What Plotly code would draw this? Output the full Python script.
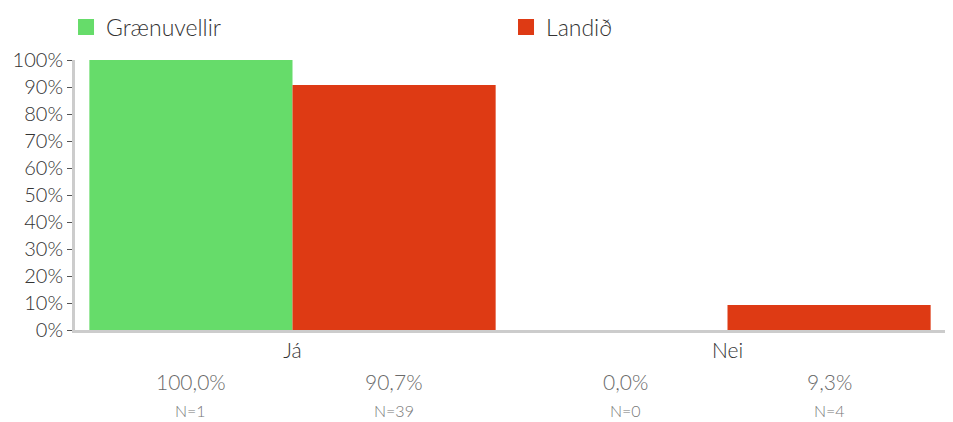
import plotly.graph_objects as go

categories = ["Já", "Nei"]
series_names = ["Grænuvellir", "Landið"]
gr_values = [100.0, 0.0]
land_values = [90.7, 9.3]
gr_counts = [1, 0]
land_counts = [39, 4]
colors = ["#66DC6A", "#DE3A14"]
ytick_vals = list(range(0, 101, 10))
ytick_text = [f"{v}%" for v in ytick_vals]

FONT = "Lato, Noto Sans, sans-serif"

# page body has an 8px margin, so the figure is sized 8px smaller each way
W, H = 945, 414

fig = go.Figure()
fig.add_trace(go.Bar(x=categories, y=gr_values, name=series_names[0], showlegend=False,
                     marker=dict(color=colors[0], line=dict(width=0))))
fig.add_trace(go.Bar(x=categories, y=land_values, name=series_names[1], showlegend=False,
                     marker=dict(color=colors[1], line=dict(width=0))))
# legend entries (one legend each, so they can sit apart) with big square swatches
for name, col, leg in zip(series_names, colors, ["legend", "legend2"]):
    fig.add_trace(go.Scatter(x=[None], y=[None], mode="markers", name=name, legend=leg,
                             marker=dict(symbol="square", size=16, color=col)))

bargap = 0.066
half = (1 - bargap) / 4  # offset of each bar centre from category centre

# percentages and N under each bar
annos = []
for i, cat in enumerate(categories):
    for off, vals, counts in [(-half, gr_values, gr_counts), (half, land_values, land_counts)]:
        pct = f"{vals[i]:.1f}%".replace(".", ",")
        annos.append(dict(x=i + off, y=-0.19, xref="x", yref="paper", text=pct,
                          yanchor="middle", showarrow=False,
                          font=dict(family=FONT, size=21, weight=300, color="#6a6a6a")))
        annos.append(dict(x=i + off, y=-0.299, xref="x", yref="paper", text=f"N={counts[i]}",
                          yanchor="middle", showarrow=False,
                          font=dict(family=FONT, size=16, weight=300, color="#777777")))

legend_common = dict(orientation="h", xanchor="left", yanchor="middle", xref="container",
                     yref="container", y=0.954, bgcolor="rgba(0,0,0,0)",
                     font=dict(family=FONT, size=23, weight=300, color="#333333"))

fig.update_layout(
    width=W, height=H,
    margin=dict(l=67, r=8, t=52, b=92, autoexpand=False),
    barmode="group", bargap=bargap, bargroupgap=0,
    plot_bgcolor="white", paper_bgcolor="white",
    font=dict(family=FONT, color="#333333"),
    showlegend=True,
    legend=dict(x=0.0614, **legend_common),
    legend2=dict(x=0.527, **legend_common),
    annotations=annos,
)
fig.update_xaxes(showline=True, linecolor="#CCCCCC", linewidth=3, layer="below traces",
                 tickfont=dict(family=FONT, size=21, weight=300, color="#333333"), ticks="",
                 range=[-0.5, 1.5])
fig.update_yaxes(range=[0, 100], tickmode="array", tickvals=ytick_vals,
                 ticktext=ytick_text, showgrid=False, showline=True,
                 linecolor="#CCCCCC", linewidth=3, ticks="outside",
                 ticklen=5, tickcolor="#555555", layer="below traces",
                 tickfont=dict(family=FONT, size=20, weight=300, color="#333333"),
                 zeroline=False)

fig.write_html("out.html")
